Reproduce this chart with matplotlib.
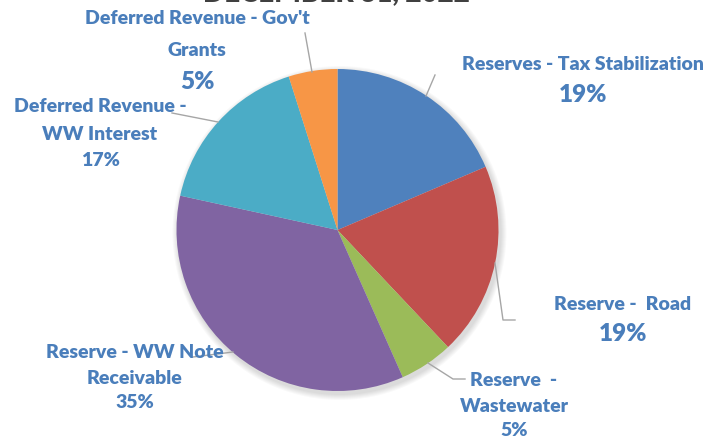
import matplotlib.pyplot as plt
from matplotlib.patches import Circle

# slice data, clockwise from 12 o'clock
labels = ["Reserves - Tax Stabilization", "Reserve -  Road", "Reserve  -\nWastewater",
          "Reserve - WW Note\nReceivable", "Deferred Revenue -\nWW Interest",
          "Deferred Revenue - Gov't\n\nGrants"]
values = [18.6, 19.4, 5.4, 35.1, 16.7, 4.9]
shown_pct = [19, 19, 5, 35, 17, 5]
colors = ["#4F81BD", "#C0504D", "#9BBB59", "#8064A2", "#4BACC6", "#F79646"]

W, H = 717, 438
fig = plt.figure(figsize=(7.17, 4.38), dpi=100)
ax = fig.add_axes([0, 0, 1, 1])

cx, cy, r = 337.5, H - 230, 161

# soft shadow
for i in range(6):
    ax.add_patch(Circle((cx + 2, cy - 3), r + 1 + i, color="black", alpha=0.025, lw=0, zorder=0))

ax.pie(values, colors=colors, startangle=90, counterclock=False,
       center=(cx, cy), radius=r, frame=True,
       wedgeprops=dict(linewidth=0))
ax.set_xlim(0, W)
ax.set_ylim(0, H)
ax.set_aspect("equal")
ax.axis("off")

font = "Lato"
blue = "#4A7EBB"
gray = "#A6A6A6"
fs = 14

# label centre x, first line y, pct y, pct size (pixels from top)
pos = [
    (583, 65, 95, 17.5),
    (623, 304, 334, 17.5),
    (514, 380, 430, fs),
    (135, 352, 403, fs),
    (100, 107, 160, fs),
    (197, 18, 82, 17.5),
]
line_gap = [0, 0, 26, 26, 27, 0]

for i, (x, y1, yp, ps) in enumerate(pos):
    lines = labels[i].split("\n")
    if i == 5:
        ax.text(x, H - 18, lines[0], ha="center", va="center", fontsize=fs, color=blue,
                fontweight="heavy", family=font)
        ax.text(x, H - 51, lines[2], ha="center", va="center", fontsize=fs, color=blue,
                fontweight="heavy", family=font)
    else:
        for k, ln in enumerate(lines):
            ax.text(x, H - (y1 + k * line_gap[i]), ln, ha="center", va="center", fontsize=fs,
                    color=blue, fontweight="heavy", family=font)
    ax.text(x, H - yp, f"{shown_pct[i]}%", ha="center", va="center", fontsize=ps,
            color=blue, fontweight="heavy", family=font)

# leader lines
leaders = [
    [(435, 75), (426, 96)],
    [(495, 263), (503, 320), (515, 320)],
    [(428, 363), (453, 379), (465, 379)],
    [(233, 352), (193, 357)],
    [(172, 113), (218, 122)],
    [(305, 33), (312, 72)],
]
for pts in leaders:
    xs = [p[0] for p in pts]
    ys = [H - p[1] for p in pts]
    ax.plot(xs, ys, color=gray, lw=1, zorder=1)

# title, cut off at the top of the image
ax.text(336, H - 1, "DECEMBER 31, 2022", ha="center", va="baseline", fontsize=20,
        color="#404040", fontweight="heavy", family=font)

fig.savefig("out.png", dpi=100)
